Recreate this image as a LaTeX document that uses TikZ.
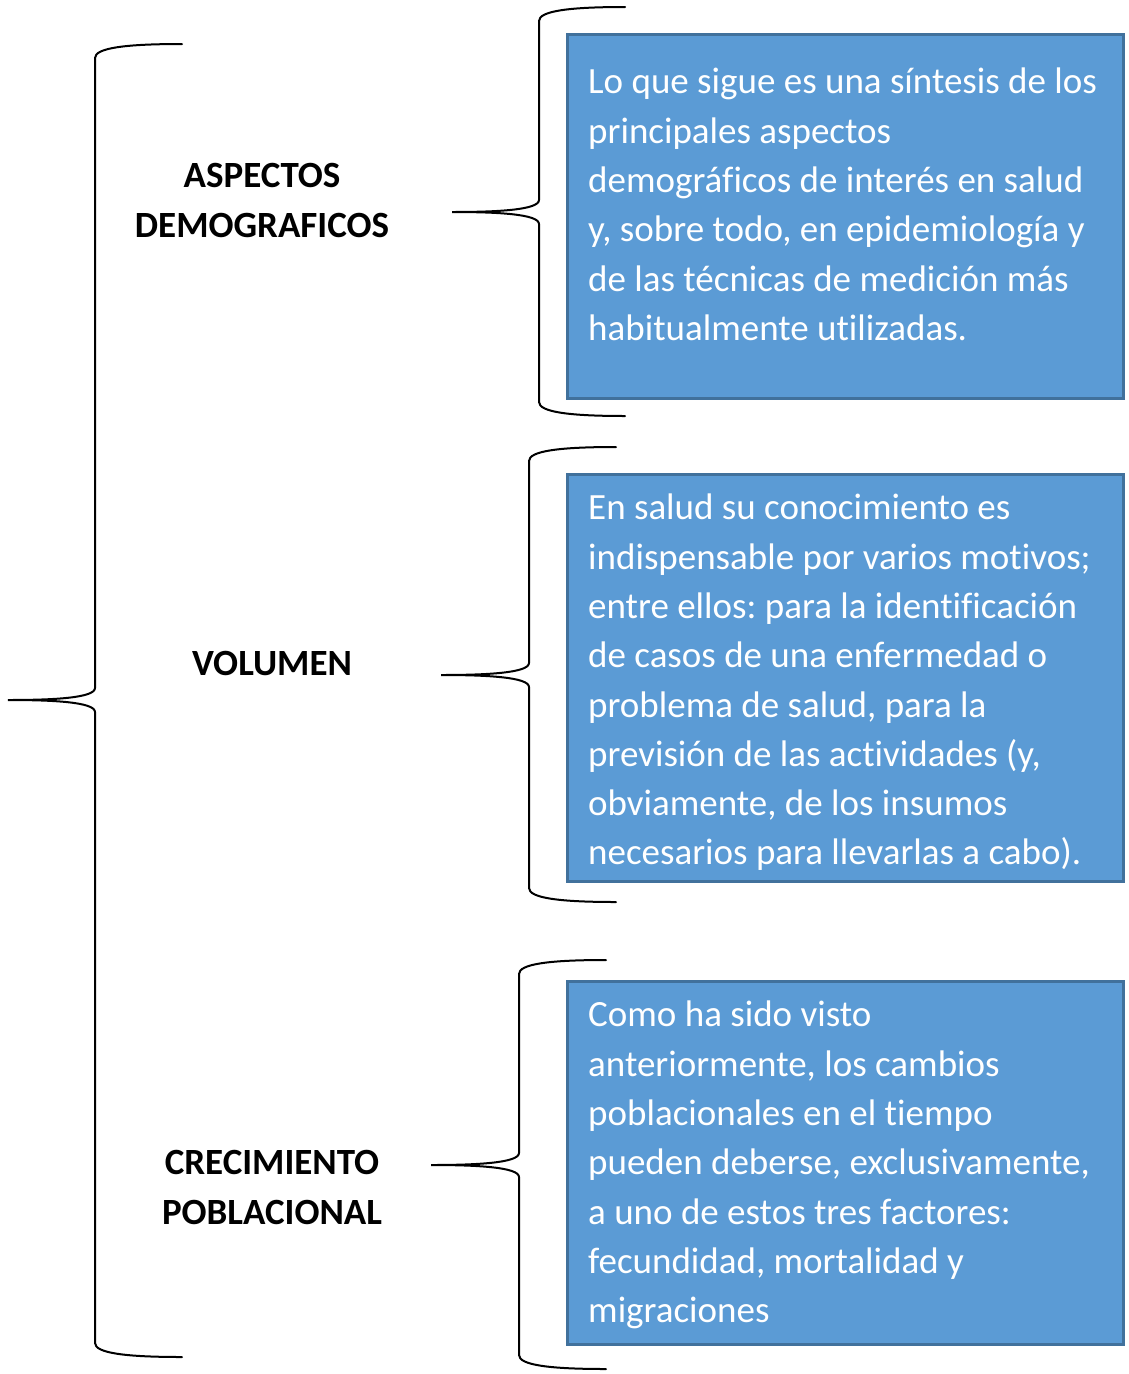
\documentclass[tikz,border=0pt]{standalone}
\usepackage{fontspec}
\setmainfont{Carlito}[Ligatures=NoCommon]
\usepackage{xcolor}
\usetikzlibrary{positioning,calc}
\definecolor{boxfill}{HTML}{5B9BD5}
\definecolor{boxline}{HTML}{41719C}
\frenchspacing

\begin{document}
\begin{tikzpicture}[x=1pt,y=-1pt,
  box/.style={draw=boxline, line width=2.5pt, fill=boxfill, anchor=north west, minimum width=556pt, inner sep=0pt},
  boxtext/.style={anchor=north west, text width=540pt, align=flush left, inner sep=0pt, text=white, font=\fontsize{37}{49.3}\selectfont},
  topic/.style={align=center, inner sep=0pt, font=\fontsize{37}{50}\selectfont\bfseries},
  brace/.style={line width=2pt, line cap=round}]
\useasboundingbox (0,0) rectangle (1128,1374);
% boxes
\node[box, minimum height=364pt] (b1) at (566,33) {};
\node[box, minimum height=407pt] (b2) at (566,473) {};
\node[box, minimum height=363pt] (b3) at (566,980) {};
% box texts
\node[boxtext] (t1) at ([shift={(22,35)}]b1.north west) {Lo que sigue es una síntesis de los\\principales aspectos\\demográficos de interés en salud\\y, sobre todo, en epidemiología y\\de las técnicas de medición más\\habitualmente utilizadas.};
\node[boxtext] (t2) at ([shift={(22,21)}]b2.north west) {En salud su conocimiento es\\indispensable por varios motivos;\\entre ellos: para la identificación\\de casos de una enfermedad o\\problema de salud, para la\\previsión de las actividades (y,\\obviamente, de los insumos\\necesarios para llevarlas a cabo).};
\node[boxtext] (t3) at ([shift={(22,21)}]b3.north west) {Como ha sido visto\\anteriormente, los cambios\\poblacionales en el tiempo\\pueden deberse, exclusivamente,\\a uno de estos tres factores:\\fecundidad, mortalidad y\\migraciones};
% topics
\node[topic] (aspectos) at (262,200) {ASPECTOS\\DEMOGRAFICOS};
\node[topic] (volumen) at (272,663) {VOLUMEN};
\node[topic] (crecimiento) at (272,1187) {CRECIMIENTO\\POBLACIONAL};
% braces: tip x/tip y/stem x/top y/bottom y/end x
\foreach \tx/\ty/\vx/\ya/\yb/\ex in {8/700/95/44/1357/182, 452/212/539/7/416/625, 441/675/529/447/902/616, 431/1165/519/960/1369/606}{
  \draw[brace] (\ex,\ya) .. controls (\vx+30,\ya) and (\vx,\ya+4) .. (\vx,\ya+14)
    -- (\vx,\ty-12) .. controls (\vx,\ty-2) and (\tx+45,\ty) .. (\tx,\ty)
    .. controls (\tx+45,\ty) and (\vx,\ty+2) .. (\vx,\ty+12)
    -- (\vx,\yb-14) .. controls (\vx,\yb-4) and (\vx+30,\yb) .. (\ex,\yb);
}
\end{tikzpicture}
\end{document}
